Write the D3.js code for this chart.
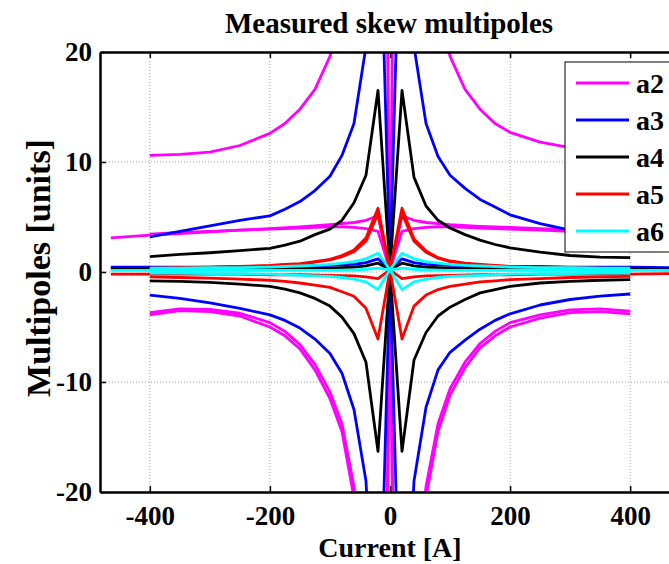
<!DOCTYPE html>
<html>
<head>
<meta charset="utf-8">
<script src="https://d3js.org/d3.v7.min.js"></script>
<style>
  html, body { margin: 0; padding: 0; background: #fff; }
  svg text { font-family: 'Liberation Serif', 'Times New Roman', serif; font-weight: bold; }
</style>
</head>
<body>
<div id="chart"></div>
<script>
// currents [A] of the two kinds of sweep
const currentShort = [-400,-350,-300,-250,-200,-175,-150,-125,-100,-80,-60,-40,-20,0,20,40,60,80,100,125,150,175,200,250,300,350,400]
const currentLong = [-465,-400,-350,-300,-250,-200,-150,-100,-60,-40,-20,0,20,40,60,100,150,200,250,300,350,400,465]

// a2
const a2Upper = [10.6,10.7,10.9,11.5,12.6,13.5,14.8,16.6,19.6,24,32,48,100,0.2,100,48,32,24,19.6,16.6,14.8,13.5,12.7,11.8,11.3,11.0,10.8]
const a2Lower1 = [-3.9,-3.5,-3.6,-4.0,-5.0,-5.8,-7.0,-8.9,-11.5,-14.5,-20.5,-32,-100,0.2,-100,-32,-20.5,-14.5,-11.2,-8.7,-6.9,-5.8,-5.0,-4.2,-3.7,-3.6,-3.8]
const a2Lower2 = [-3.7,-3.35,-3.4,-3.75,-4.6,-5.4,-6.6,-8.4,-10.9,-13.8,-19.5,-30,-95,0.2,-95,-30,-19.5,-13.8,-10.6,-8.2,-6.5,-5.4,-4.6,-3.9,-3.45,-3.35,-3.55]
const a2Flat1 = [3.1,3.35,3.5,3.65,3.8,3.95,4.1,4.3,4.5,4.7,5.1,0.2,5.1,4.7,4.5,4.3,4.15,4.05,3.95,3.85,3.75,3.6,3.45]
const a2Flat2 = [3.45,3.6,3.7,3.8,3.9,3.95,4.0,4.05,4.1,4.1,4.05,3.95,3.7,0.2,3.7,3.95,4.05,4.1,4.1,4.05,4.0,3.95,3.9,3.8,3.7,3.6,3.5]
// a3
const a3Upper = [3.2,3.7,4.2,4.7,5.1,5.7,6.4,7.4,8.7,10.6,13.5,20.5,40,0.2,40,20.5,13.5,10.5,8.8,7.6,6.6,5.9,5.2,4.4,3.8,3.5,3.3]
const a3Lower = [-2.1,-2.4,-2.8,-3.3,-3.9,-4.4,-5.1,-6.1,-7.4,-9.2,-12.5,-19,-40,0.2,-40,-19,-12.3,-8.9,-7.3,-6.2,-5.2,-4.4,-3.8,-3.0,-2.5,-2.2,-2.0]
const a3Flat = [0.45,0.45,0.45,0.45,0.5,0.5,0.55,0.6,0.7,0.85,1.2,0.2,1.2,0.85,0.7,0.6,0.55,0.5,0.5,0.45,0.45,0.45,0.4]
// a4
const a4Upper = [1.4,1.6,1.75,1.95,2.15,2.45,2.8,3.4,3.9,4.7,6.3,8.8,16.5,0.2,16.5,8.6,6.0,4.7,4.0,3.4,2.9,2.5,2.2,1.8,1.5,1.35,1.3]
const a4Lower = [-0.8,-0.85,-0.95,-1.1,-1.3,-1.55,-1.9,-2.4,-3.1,-4.1,-5.6,-8.2,-16.3,0.2,-16.3,-8.0,-5.5,-4.0,-3.2,-2.5,-1.9,-1.6,-1.3,-1.0,-0.85,-0.75,-0.7]
const a4Flat = [0.25,0.25,0.25,0.25,0.25,0.3,0.3,0.35,0.45,0.55,0.8,0.2,0.8,0.55,0.45,0.35,0.3,0.3,0.25,0.25,0.25,0.25,0.2]
// a5
const a5Upper = [0.35,0.4,0.45,0.5,0.6,0.7,0.75,0.95,1.15,1.5,2.0,3.1,5.8,0.2,5.8,3.0,1.9,1.3,1.0,0.8,0.7,0.6,0.5,0.45,0.4,0.35,0.3]
const a5Upper2 = [0.3,0.35,0.4,0.45,0.55,0.65,0.7,0.9,1.1,1.4,1.85,2.8,5.3,0.2,5.3,2.8,1.8,1.25,0.95,0.75,0.65,0.55,0.45,0.4,0.35,0.3,0.25]
const a5Lower = [-0.45,-0.5,-0.55,-0.65,-0.75,-0.85,-1.0,-1.2,-1.4,-1.8,-2.2,-3.3,-6.1,0.2,-6.1,-3.1,-2.1,-1.6,-1.3,-1.1,-0.9,-0.8,-0.7,-0.6,-0.5,-0.45,-0.4]
const a5Flat = [-0.2,-0.2,-0.2,-0.2,-0.2,-0.25,-0.25,-0.3,-0.35,-0.45,-0.6,0.2,-0.6,-0.45,-0.35,-0.3,-0.25,-0.25,-0.2,-0.2,-0.2,-0.2,-0.15]
// a6
const a6Upper = [0.35,0.35,0.4,0.4,0.45,0.5,0.55,0.6,0.7,0.8,0.95,1.2,1.7,0.2,1.7,1.2,0.95,0.8,0.7,0.6,0.55,0.5,0.45,0.4,0.4,0.35,0.35]
const a6Lower = [-0.1,-0.1,-0.15,-0.15,-0.2,-0.25,-0.3,-0.35,-0.4,-0.5,-0.65,-0.9,-1.6,0.2,-1.6,-0.9,-0.65,-0.5,-0.4,-0.35,-0.3,-0.25,-0.2,-0.15,-0.15,-0.1,-0.1]
const a6Flat = [0.15,0.15,0.15,0.15,0.15,0.15,0.15,0.15,0.2,0.25,0.35,0.2,0.35,0.25,0.2,0.15,0.15,0.15,0.15,0.15,0.15,0.15,0.15]

const names = ['a2', 'a3', 'a4', 'a5', 'a6']
const colors = ['#ff00ff', '#0000ff', '#000000', '#ff0000', '#00ffff']
const xTicks = [-400, -200, 0, 200, 400]
const yTicks = [-20, -10, 0, 10, 20]

const series = [
  {name: 'a2', cur: currentShort, val: a2Upper},
  {name: 'a2', cur: currentShort, val: a2Lower1},
  {name: 'a2', cur: currentShort, val: a2Lower2},
  {name: 'a2', cur: currentLong, val: a2Flat1},
  {name: 'a2', cur: currentShort, val: a2Flat2},
  {name: 'a3', cur: currentShort, val: a3Upper},
  {name: 'a3', cur: currentShort, val: a3Lower},
  {name: 'a3', cur: currentLong, val: a3Flat},
  {name: 'a4', cur: currentShort, val: a4Upper},
  {name: 'a4', cur: currentShort, val: a4Lower},
  {name: 'a4', cur: currentLong, val: a4Flat},
  {name: 'a5', cur: currentShort, val: a5Upper},
  {name: 'a5', cur: currentShort, val: a5Upper2},
  {name: 'a5', cur: currentShort, val: a5Lower},
  {name: 'a5', cur: currentLong, val: a5Flat},
  {name: 'a6', cur: currentShort, val: a6Upper},
  {name: 'a6', cur: currentShort, val: a6Lower},
  {name: 'a6', cur: currentLong, val: a6Flat}
]

const W = 669, H = 564
const plot = {left: 100, right: 680, top: 52, bottom: 492}
const serif = "'Liberation Serif', 'Times New Roman', serif"

const svg = d3.select('#chart').append('svg')
  .attr('width', W).attr('height', H)

const x = d3.scaleLinear().domain([-483, 483]).range([plot.left, plot.right])
const y = d3.scaleLinear().domain([-20, 20]).range([plot.bottom, plot.top])
const color = d3.scaleOrdinal().domain(names).range(colors)

svg.append('clipPath').attr('id', 'clip')
  .append('rect')
  .attr('x', plot.left).attr('y', plot.top)
  .attr('width', plot.right - plot.left).attr('height', plot.bottom - plot.top)

// grid
const grid = svg.append('g').attr('stroke', '#a0a0a0').attr('stroke-width', 1).attr('stroke-dasharray', '1,2')
grid.selectAll('.gx').data(xTicks).enter().append('line')
  .attr('x1', d => x(d)).attr('x2', d => x(d)).attr('y1', plot.top).attr('y2', plot.bottom)
grid.selectAll('.gy').data(yTicks.slice(1, -1)).enter().append('line')
  .attr('y1', d => y(d)).attr('y2', d => y(d)).attr('x1', plot.left).attr('x2', plot.right)

// curves
const line = d3.line()
svg.append('g').attr('clip-path', 'url(#clip)')
  .selectAll('path').data(series).enter().append('path')
  .attr('d', s => line(s.val.map((v, i) => [x(s.cur[i]), y(v)])))
  .attr('fill', 'none')
  .attr('stroke', s => color(s.name))
  .attr('stroke-width', 2.8)
  .attr('stroke-linejoin', 'round')

// axes, ticks inward
const fmt = d => String(d)
const axes = svg.append('g')
axes.append('g').attr('transform', `translate(0,${plot.bottom})`)
  .call(d3.axisBottom(x).tickValues(xTicks).tickFormat(fmt).tickSize(-6).tickSizeOuter(0).tickPadding(14))
axes.append('g').attr('transform', `translate(0,${plot.top})`)
  .call(d3.axisTop(x).tickValues(xTicks).tickFormat('').tickSize(-6).tickSizeOuter(0))
axes.append('g').attr('transform', `translate(${plot.left},0)`)
  .call(d3.axisLeft(y).tickValues(yTicks).tickFormat(fmt).tickSize(-6).tickSizeOuter(0).tickPadding(8))

axes.selectAll('g').attr('font-family', serif).attr('font-size', 27)
axes.selectAll('.domain').attr('stroke', '#000').attr('stroke-width', 2.5)
axes.selectAll('.tick line').attr('stroke', '#000').attr('stroke-width', 1.5)
axes.selectAll('.tick text').attr('font-family', serif).attr('font-weight', 'bold').attr('fill', '#000')

// titles
svg.append('text').attr('x', 389).attr('y', 33).attr('text-anchor', 'middle')
  .attr('font-size', 29).text('Measured skew multipoles')
svg.append('text').attr('x', 390).attr('y', 557).attr('text-anchor', 'middle')
  .attr('font-size', 28).text('Current [A]')
svg.append('text').attr('transform', 'translate(50,268) rotate(-90)').attr('text-anchor', 'middle')
  .attr('font-size', 34).text('Multipoles [units]')

// legend
const legend = svg.append('g')
legend.append('rect').attr('x', 565).attr('y', 62).attr('width', 130).attr('height', 190)
  .attr('fill', '#fff').attr('stroke', '#000').attr('stroke-width', 1)
const item = legend.selectAll('.item').data(names).enter().append('g')
  .attr('transform', (d, i) => `translate(0,${83 + i * 37})`)
item.append('line').attr('x1', 576).attr('x2', 629)
  .attr('stroke', d => color(d)).attr('stroke-width', 2.8)
item.append('text').attr('x', 636).attr('y', 10).attr('font-size', 28).text(d => d)
</script>
</body>
</html>
